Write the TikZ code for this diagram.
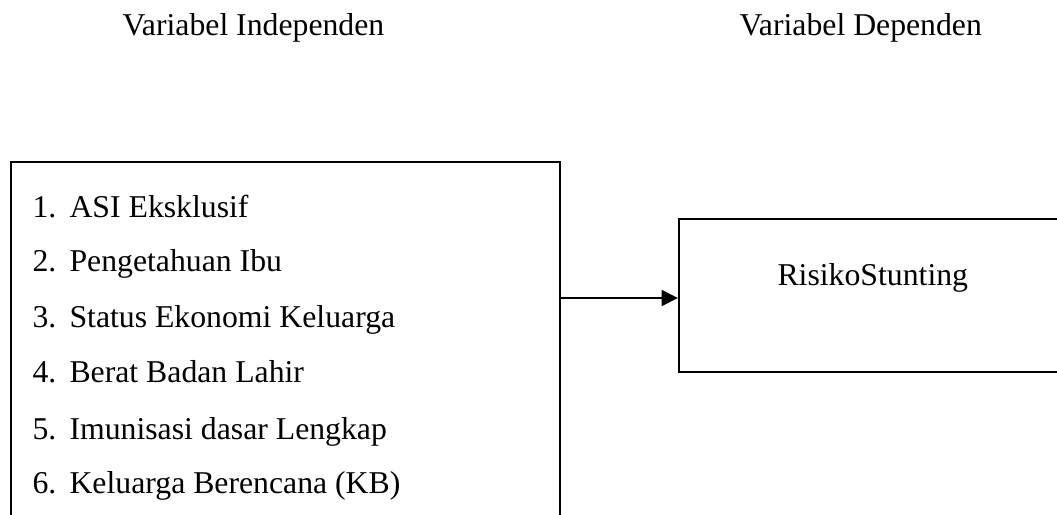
\documentclass[tikz,border=0pt]{standalone}
\usepackage{fontspec}
\setmainfont{Liberation Serif}
\usetikzlibrary{arrows.meta}
\tikzset{
    teks/.style={anchor=base west, inner sep=0pt, font=\fontsize{12pt}{14pt}\selectfont},
    kotak/.style={draw, line width=0.75pt, inner sep=0pt}
}
\newcommand{\nomor}[2]{\makebox[14pt][l]{#1}#2}
\begin{document}
\begin{tikzpicture}[x=0.378pt, y=-0.378pt]
    \clip (0,0) rectangle (1057,514);
    % judul
    \node[teks] (jdlA) at (122,35) {Variabel Independen};
    \node[teks] (jdlB) at (739,35) {Variabel Dependen};
    % kotak variabel
    \node[kotak, minimum width=207.5pt, minimum height=142.9pt] (indep) at (285.5,351) {};
    \node[kotak, minimum width=149.7pt, minimum height=57.8pt] (dep) at (877,295.5) {};
    % isi kotak kiri
    \node[teks] (v1) at (32,217) {\nomor{1.}{ASI Eksklusif}};
    \node[teks] (v2) at (32,271) {\nomor{2.}{Pengetahuan Ibu}};
    \node[teks] (v3) at (32,327) {\nomor{3.}{Status Ekonomi Keluarga}};
    \node[teks] (v4) at (32,382) {\nomor{4.}{Berat Badan Lahir}};
    \node[teks] (v5) at (32,439) {\nomor{5.}{Imunisasi dasar Lengkap}};
    \node[teks] (v6) at (32,493) {\nomor{6.}{Keluarga Berencana (KB)}};
    % isi kotak kanan
    \node[teks] (y) at (777,285) {RisikoStunting};
    % panah
    \coordinate (tinggi) at (0,298);
    \draw[-{Triangle[length=6.2pt, width=6pt]}, line width=0.8pt] (indep.east |- tinggi) -- (dep.west |- tinggi);
\end{tikzpicture}
\end{document}
